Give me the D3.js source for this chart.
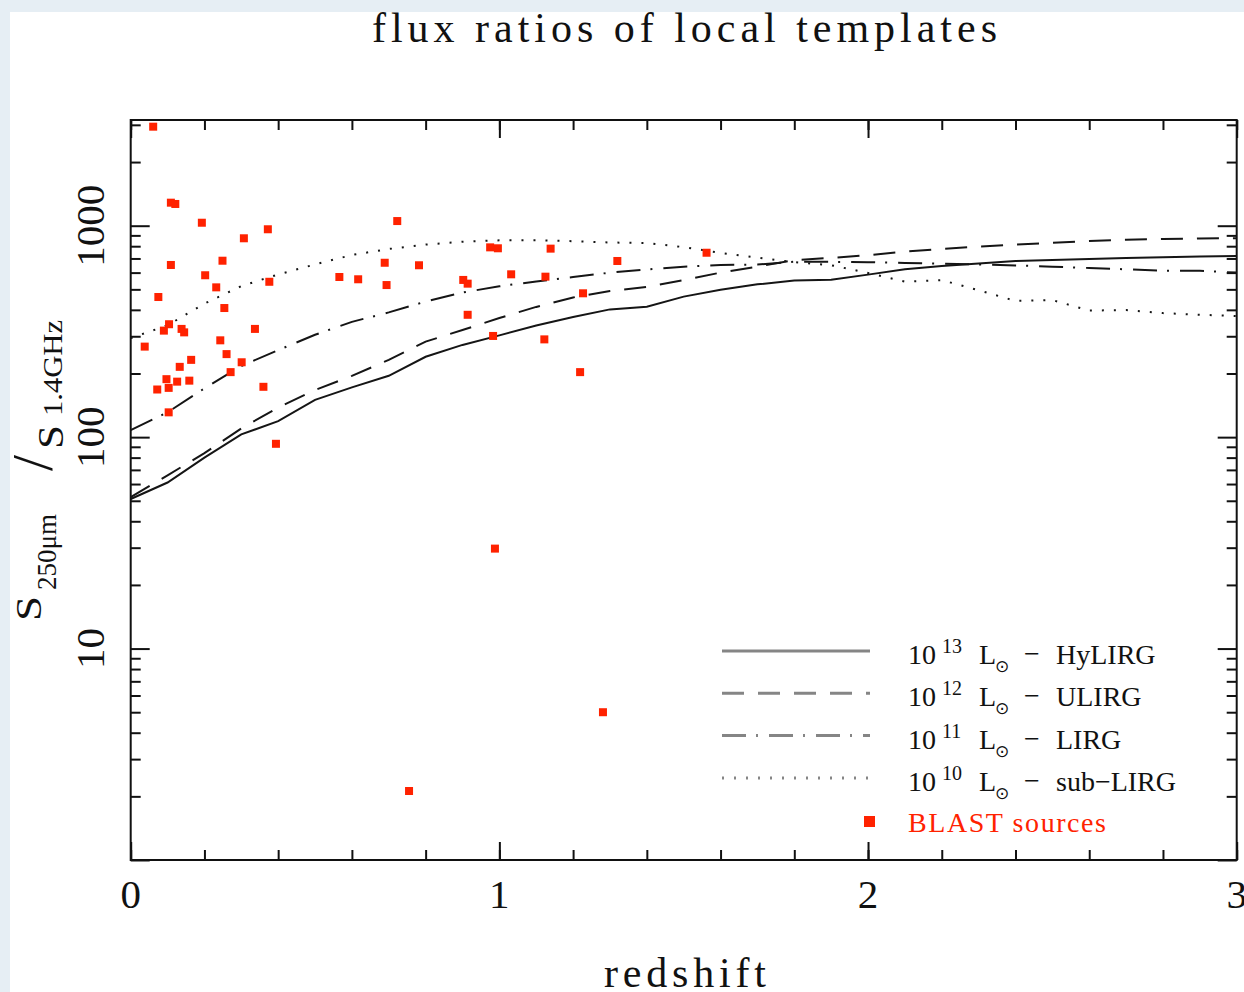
<!DOCTYPE html>
<html>
<head>
<meta charset="utf-8">
<script src="https://cdn.jsdelivr.net/npm/d3@7"></script>
<style>
html, body { margin: 0; padding: 0; overflow: hidden; background: #e6eef4; }
text { font-family: "Liberation Serif", "DejaVu Serif", serif; fill: #111; }
</style>
</head>
<body>
<svg id="chart" width="1244" height="992"></svg>
<script>
// template curves, sampled every 0.1 in redshift
var redshifts = [0, 0.1, 0.2, 0.3, 0.4, 0.5, 0.6, 0.7, 0.8, 0.9, 1.0, 1.1, 1.2, 1.3, 1.4, 1.5,
                 1.6, 1.7, 1.8, 1.9, 2.0, 2.1, 2.2, 2.3, 2.4, 2.5, 2.6, 2.7, 2.8, 2.9, 3.0];
var hylirg  = [51, 61, 80, 103, 119, 150, 172, 195, 240, 273, 303, 337, 370, 402, 414, 462,
               498, 528, 550, 555, 587, 622, 645, 663, 681, 688, 696, 703, 709, 715, 719];
var ulirg   = [52, 66, 84, 110, 138, 167, 195, 232, 283, 321, 366, 413, 458, 491, 514, 553,
               600, 640, 688, 704, 725, 755, 777, 797, 814, 830, 846, 859, 865, 870, 873];
var lirg    = [108, 131, 170, 217, 258, 305, 351, 389, 438, 483, 517, 545, 572, 600, 621, 640,
               652, 655, 676, 675, 672, 667, 661, 655, 649, 640, 631, 622, 613, 612, 600];
var sublirg = [294, 338, 428, 518, 588, 656, 727, 776, 814, 840, 853, 854, 845, 833, 828, 792,
               744, 706, 672, 650, 598, 544, 553, 495, 441, 445, 397, 399, 386, 379, 374];

// BLAST sources
var blastZ = [0.061, 0.109, 0.121, 0.193, 0.307, 0.372, 0.109, 0.249, 0.202, 0.232, 0.376, 0.075,
              0.254, 0.104, 0.090, 0.138, 0.145, 0.337, 0.038, 0.243, 0.260, 0.164, 0.301, 0.133,
              0.271, 0.097, 0.159, 0.126, 0.072, 0.103, 0.360, 0.103, 0.394, 0.723, 0.975, 0.996,
              1.139, 1.320, 0.689, 0.782, 0.566, 0.617, 0.694, 0.902, 0.914, 1.032, 1.125, 1.227,
              0.914, 0.983, 1.122, 1.562, 1.219, 0.988, 1.281, 0.755];
var blastRatio = [2940, 1285, 1267, 1033, 872, 962, 652, 683, 583, 511, 543, 460,
                  408, 342, 319, 325, 313, 325, 268, 287, 247, 232, 226, 215,
                  203, 188, 185, 183, 168, 171, 173, 131, 93, 1052, 790, 782,
                  779, 681, 668, 650, 572, 558, 524, 554, 532, 589, 574, 479,
                  379, 301, 290, 745, 203, 29.7, 5.0, 2.12];

var xTickLabels = [0, 1, 2, 3];
var yTickLabels = [10, 100, 1000];
var templateExps = ["13", "12", "11", "10"];
var templateNames = ["HyLIRG", "ULIRG", "LIRG", "sub\u2212LIRG"];
var templateDash = [null, "22,14", "24,10,2,11", "2,10"];

var svg = d3.select("#chart");

svg.append("rect").attr("x", 10).attr("y", 12)
    .attr("width", 1234).attr("height", 980).attr("fill", "#fff");

var plotLeft = 130.7, plotRight = 1236.7, plotTop = 120, plotBottom = 860;

var x = d3.scaleLinear().domain([0, 3]).range([plotLeft, plotRight]);
var y = d3.scaleLog().domain([1, 3162]).range([plotBottom, plotTop]);

// ticks
var xMinor = d3.range(0, 3.001, 0.2);
var yMinor = [];
[1, 10, 100, 1000].forEach(function (p) {
    for (var m = 2; m <= 9; m++) if (m * p <= 3162) yMinor.push(m * p);
});
var yMajor = [1, 10, 100, 1000];

function tickGroup(axis, tx, ty) {
    var g = svg.append("g")
        .attr("transform", "translate(" + tx + "," + ty + ")")
        .call(axis);
    g.select(".domain").remove();
    g.selectAll("line").attr("stroke", "#111").attr("stroke-width", 2);
    g.selectAll("text").remove();
    return g;
}

tickGroup(d3.axisBottom(x).tickValues(xMinor).tickSize(-10), 0, plotBottom);
tickGroup(d3.axisBottom(x).tickValues(xTickLabels).tickSize(-18), 0, plotBottom);
tickGroup(d3.axisTop(x).tickValues(xMinor).tickSize(-10), 0, plotTop);
tickGroup(d3.axisTop(x).tickValues(xTickLabels).tickSize(-18), 0, plotTop);
tickGroup(d3.axisLeft(y).tickValues(yMinor).tickSize(-10), plotLeft, 0);
tickGroup(d3.axisLeft(y).tickValues(yMajor).tickSize(-19), plotLeft, 0);
tickGroup(d3.axisRight(y).tickValues(yMinor).tickSize(-10), plotRight, 0);
tickGroup(d3.axisRight(y).tickValues(yMajor).tickSize(-19), plotRight, 0);

svg.append("rect")
    .attr("x", plotLeft).attr("y", plotTop)
    .attr("width", plotRight - plotLeft).attr("height", plotBottom - plotTop)
    .attr("fill", "none").attr("stroke", "#111").attr("stroke-width", 2);

// tick labels
svg.selectAll(".xlab")
    .data(xTickLabels)
    .enter().append("text")
    .attr("x", function (d) { return x(d); })
    .attr("y", 908)
    .attr("text-anchor", "middle")
    .attr("font-size", 41)
    .text(function (d) { return d; });

svg.selectAll(".ylab")
    .data(yTickLabels)
    .enter().append("text")
    .attr("transform", function (d) { return "translate(104," + y(d) + ") rotate(-90)"; })
    .attr("text-anchor", "middle")
    .attr("font-size", 41)
    .text(function (d) { return d; });

// curves
var series = [hylirg, ulirg, lirg, sublirg];
var line = d3.line()
    .x(function (d, i) { return x(redshifts[i]); })
    .y(function (d) { return y(d); });

series.forEach(function (s, k) {
    svg.append("path")
        .attr("d", line(s))
        .attr("fill", "none")
        .attr("stroke", "#151515")
        .attr("stroke-width", 2)
        .attr("stroke-dasharray", templateDash[k]);
});

// BLAST points
svg.selectAll(".blast")
    .data(blastZ)
    .enter().append("rect")
    .attr("x", function (d) { return x(d) - 4; })
    .attr("y", function (d, i) { return y(blastRatio[i]) - 4; })
    .attr("width", 8).attr("height", 8)
    .attr("fill", "#ff2200");

// legend
var legend = svg.append("g");
templateNames.forEach(function (name, i) {
    var ly = 651 + i * 42.3;
    legend.append("line")
        .attr("x1", 722).attr("x2", 870)
        .attr("y1", ly).attr("y2", ly)
        .attr("stroke", "#858585").attr("stroke-width", 3)
        .attr("stroke-dasharray", templateDash[i]);
    var t = legend.append("text").attr("font-size", 28);
    var by = ly + 13;
    t.append("tspan").attr("x", 908).attr("y", by).text("10");
    t.append("tspan").attr("x", 942).attr("y", by - 11).attr("font-size", 20).text(templateExps[i]);
    t.append("tspan").attr("x", 979).attr("y", by).text("L");
    t.append("tspan").attr("x", 995).attr("y", by + 8).attr("font-size", 17)
        .style("font-family", "'DejaVu Sans'").text("\u2299");
    t.append("tspan").attr("x", 1024).attr("y", by - 1).text("\u2212");
    t.append("tspan").attr("x", 1056).attr("y", by).text(name);
});
legend.append("rect")
    .attr("x", 864).attr("y", 816).attr("width", 11).attr("height", 11)
    .attr("fill", "#ff2200");
legend.append("text")
    .attr("x", 908).attr("y", 832)
    .attr("font-size", 28)
    .attr("textLength", 198).attr("lengthAdjust", "spacing")
    .style("fill", "#ff2200")
    .text("BLAST sources");

// title and axis labels
svg.append("text")
    .attr("x", 372).attr("y", 42)
    .attr("font-size", 42)
    .attr("textLength", 625).attr("lengthAdjust", "spacing")
    .text("flux ratios of local templates");

svg.append("text")
    .attr("x", 604).attr("y", 987)
    .attr("font-size", 42)
    .attr("textLength", 162).attr("lengthAdjust", "spacing")
    .text("redshift");

function ylabelPiece(str, bx, sy, size, len) {
    var t = svg.append("text")
        .attr("transform", "translate(" + bx + "," + sy + ") rotate(-90)")
        .attr("font-size", size)
        .text(str);
    if (len) t.attr("textLength", len).attr("lengthAdjust", "spacingAndGlyphs");
}
ylabelPiece("S", 41, 621, 36, 25);
ylabelPiece("250\u03bcm", 56, 590, 28, 76);
ylabelPiece("/", 52, 471, 58);
ylabelPiece("S", 63, 449, 36, 24);
ylabelPiece("1.4GHz", 62, 416, 28, 96);
</script>
</body>
</html>
